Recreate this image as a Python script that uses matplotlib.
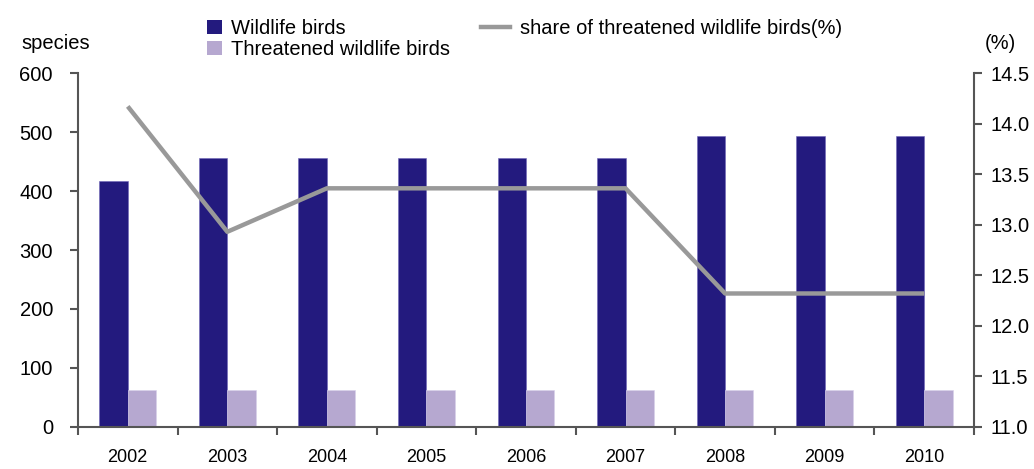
import matplotlib.pyplot as plt
import numpy as np
from matplotlib.patches import Patch
from matplotlib.lines import Line2D

plt.rcParams['font.family'] = ['Liberation Sans', 'DejaVu Sans']

years = ['2002', '2003', '2004', '2005', '2006', '2007', '2008', '2009', '2010']
wildlife = [417, 456, 456, 456, 456, 456, 494, 494, 494]
threatened = [62, 62, 62, 62, 62, 62, 62, 62, 62]
share = [14.17, 12.93, 13.36, 13.36, 13.36, 13.36, 12.32, 12.32, 12.32]

navy = '#231a7e'
lavender = '#b6a8d0'
grey = '#999999'
spine = '#555555'

fig = plt.figure(figsize=(10.34, 4.69), dpi=100)
ax = fig.add_axes([0.0754, 0.0896, 0.8666, 0.7547])
x = np.arange(len(years))
w = 0.285

ax.bar(x - w / 2, wildlife, w, color=navy, edgecolor='#6f66b8', linewidth=0.4)
ax.bar(x + w / 2, threatened, w, color=lavender, edgecolor='#d8d0ea', linewidth=0.4)

ax.set_xlim(-0.5, len(years) - 0.5)
ax.set_ylim(0, 600)
ax.set_yticks(range(0, 601, 100))
ax.set_xticks(np.arange(-0.5, len(years), 1))
ax.set_xticklabels([])
ax.set_xticks(x, minor=True)
ax.set_xticklabels(years, minor=True)
ax.tick_params(axis='x', which='minor', length=0, pad=16, labelsize=13)
ax.tick_params(axis='x', which='major', length=6, width=1.5, color=spine, direction='out')
ax.tick_params(axis='y', length=6, width=1.5, color=spine, pad=12, labelsize=14.5)

for s in ['top', 'right']:
    ax.spines[s].set_visible(False)
for s in ['left', 'bottom']:
    ax.spines[s].set_color(spine)
    ax.spines[s].set_linewidth(1.5)

ax2 = ax.twinx()
ax2.plot(x, share, color=grey, linewidth=3.2, solid_capstyle='butt')
ax2.set_ylim(11.0, 14.5)
ax2.set_yticks(np.arange(11.0, 14.51, 0.5))
ax2.set_yticklabels(['%.1f' % v for v in np.arange(11.0, 14.51, 0.5)])
ax2.tick_params(axis='y', length=6, width=1.5, color=spine, pad=6, labelsize=14.5)
for s in ['top', 'left', 'bottom']:
    ax2.spines[s].set_visible(False)
ax2.spines['right'].set_color(spine)
ax2.spines['right'].set_linewidth(1.5)

fig.text(0.021, 0.908, 'species', fontsize=14.5, va='center')
fig.text(0.952, 0.908, '(%)', fontsize=14.5, va='center')

h1 = [Patch(facecolor=navy), Patch(facecolor=lavender)]
fig.legend(h1, ['Wildlife birds', 'Threatened wildlife birds'],
           loc='upper left', bbox_to_anchor=(0.187, 0.99), frameon=False,
           fontsize=14.5, handlelength=0.7, handleheight=0.7,
           handletextpad=0.45, labelspacing=0.12, borderaxespad=0.3)
h2 = [Line2D([0], [0], color=grey, linewidth=3.2)]
fig.legend(h2, ['share of threatened wildlife birds(%)'],
           loc='upper left', bbox_to_anchor=(0.452, 0.99), frameon=False,
           fontsize=14.5, handlelength=1.4, handletextpad=0.5, borderaxespad=0.3)

fig.savefig('out.png', dpi=100)
